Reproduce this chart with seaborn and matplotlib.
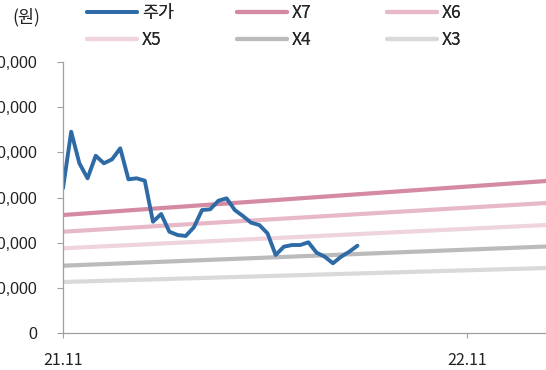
import matplotlib
matplotlib.use("Agg")
import matplotlib.pyplot as plt
import seaborn as sns
import pandas as pd
import numpy as np

# ---- data ----
stock_price = [32040, 44570, 37570, 34250, 39250, 37570, 38460, 40890, 34030, 34250,
               33720, 24640, 26350, 22430, 21700, 21480, 23400, 27230, 27390, 29290,
               29820, 27230, 25900, 24420, 23910, 22070, 17270, 19110, 19480, 19480,
               20080, 17780, 16890, 15430, 16890, 18000, 19330]
band_labels = ["X7", "X6", "X5", "X4", "X3"]
band_start = [26125, 22430, 18750, 14900, 11290]
band_end = [33650, 28780, 23910, 19150, 14390]
band_x = [0, 59.05]          # week index at start / end of band lines
x_tick_pos = [0, 49.4]
x_tick_labels = ["21.11", "22.11"]
y_ticks = [0, 10000, 20000, 30000, 40000, 50000, 60000]

stock_color = "#2E6BA6"
band_colors = ["#D48AA1", "#E7B9C7", "#F0D4DD", "#BBBBBB", "#D9D9D9"]

sns.set_theme(style="white")
plt.rcParams['font.family'] = ['Noto Sans CJK KR', 'DejaVu Sans']

fig = plt.figure(figsize=(5.46, 3.70), dpi=100)
ax = fig.add_axes([63/546, 37/370, 483/546, 271/370])

df_stock = pd.DataFrame({"x": np.arange(len(stock_price)), "y": stock_price})
sns.lineplot(data=df_stock, x="x", y="y", ax=ax, color=stock_color, lw=2.8,
             label="주가", legend=False)
for lab, s, e, c in zip(band_labels, band_start, band_end, band_colors):
    d = pd.DataFrame({"x": band_x, "y": [s, e]})
    sns.lineplot(data=d, x="x", y="y", ax=ax, color=c, lw=3.0, label=lab,
                 legend=False, zorder=1)

ax.set_xlim(0, 59.05)
ax.set_ylim(0, 60000)
ax.set_xlabel("")
ax.set_ylabel("")
ax.set_yticks(y_ticks)
ax.set_yticklabels([f"{v:,}" for v in y_ticks], fontsize=11.5, color="#222222",
                   fontfamily="Liberation Sans")
ax.set_xticks(x_tick_pos)
ax.set_xticklabels(x_tick_labels, fontsize=11.5, color="#222222")
ax.tick_params(axis="y", length=4.5, width=0.8, color="#A0A0A0", pad=14, left=True)
ax.tick_params(axis="x", length=3.5, width=0.8, color="#A0A0A0", pad=10, bottom=True)
for sp in ["top", "right"]:
    ax.spines[sp].set_visible(False)
for sp in ["left", "bottom"]:
    ax.spines[sp].set_color("#A0A0A0")
    ax.spines[sp].set_linewidth(0.9)

# legends: three columns of two entries
lines = ax.get_lines()
by_label = {l.get_label(): l for l in lines}
cols = [["주가", "X5"], ["X7", "X4"], ["X6", "X3"]]
col_x = [92, 242, 392]
for cx, names in zip(col_x, cols):
    leg = fig.legend([by_label[n] for n in names], names, loc="upper left",
                     bbox_to_anchor=((cx - 8) / 546, 1 - 1 / 370),
                     frameon=False, fontsize=12.5, handlelength=2.85,
                     handletextpad=0.3, labelspacing=0.5, borderpad=0.2,
                     borderaxespad=0)
    fig.add_artist(leg)

fig.text(12/546, 1 - 17/370, "(원)", fontsize=12.5, va="center", ha="left",
         color="#222222")

fig.savefig("out.png", dpi=100)
